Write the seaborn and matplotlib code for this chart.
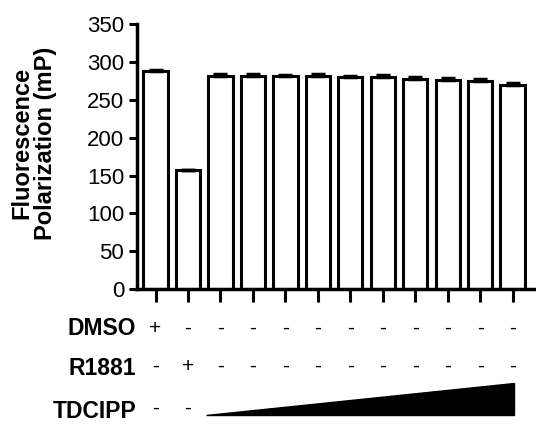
import matplotlib
matplotlib.use("Agg")
import matplotlib.pyplot as plt
import matplotlib.transforms as mtransforms
import seaborn as sns
import pandas as pd
import numpy as np

groups = [f"g{i}" for i in range(1, 13)]
values = [288, 157, 282, 282, 281, 282, 280, 280, 278, 276, 275, 270]
errors = [1.5, 0.8, 2.0, 2.0, 2.0, 2.0, 2.0, 3.0, 2.0, 3.0, 3.0, 2.0]
dmso = ["+", "-", "-", "-", "-", "-", "-", "-", "-", "-", "-", "-"]
r1881 = ["-", "+", "-", "-", "-", "-", "-", "-", "-", "-", "-", "-"]
tdcipp = ["-", "-"]
row_labels = ["DMSO", "R1881", "TDCIPP"]
yticks = [0, 50, 100, 150, 200, 250, 300, 350]

sns.set_style("ticks", {"axes.edgecolor": "black", "xtick.color": "black",
                        "ytick.color": "black", "text.color": "black",
                        "axes.labelcolor": "black"})
plt.rcParams['font.family'] = ['Liberation Sans', 'DejaVu Sans']

fig = plt.figure(figsize=(5.36, 4.24), dpi=100)
ax = fig.add_axes([0.255, 0.318, 0.745, 0.625])

df = pd.DataFrame({"group": groups, "value": values})
sns.barplot(data=df, x="group", y="value", ax=ax, color="white",
            edgecolor="black", linewidth=2.2, width=0.75, errorbar=None)
ax.errorbar(np.arange(len(values)), values, yerr=[np.zeros(len(values)), errors],
            fmt="none", ecolor="black", elinewidth=2.2, capsize=5, capthick=2.5)

ax.set_xlim(-0.58, 11.72)
ax.set_ylim(0, 350)
ax.set_yticks(yticks)
ax.tick_params(axis="y", labelsize=16, width=2.2, length=6, pad=3, colors="black")
ax.tick_params(axis="x", width=2.2, length=9, labelbottom=False, colors="black")
for s in ["left", "bottom"]:
    ax.spines[s].set_linewidth(2.5)
    ax.spines[s].set_color("black")
sns.despine(ax=ax)
ax.set_xlabel("")
ax.set_ylabel("Fluorescence\nPolarization (mP)", fontsize=17, fontweight="bold",
              linespacing=1.0, color="black")
ax.yaxis.set_label_coords(-0.20, 0.55)

trans = mtransforms.blended_transform_factory(ax.transData, ax.transAxes)
row_y = [-0.148, -0.30, -0.46]
sign_y = [-0.148, -0.29, -0.45]
for lab, yy in zip(row_labels, row_y):
    ax.text(-0.6, yy, lab, transform=trans, ha="right", va="center",
            fontsize=16.5, fontweight="bold", clip_on=False, color="black")
for i, s in enumerate(dmso):
    ax.text(i, sign_y[0], s, transform=trans, ha="center", va="center", fontsize=15, clip_on=False)
for i, s in enumerate(r1881):
    ax.text(i, sign_y[1], s, transform=trans, ha="center", va="center", fontsize=15, clip_on=False)
for i, s in enumerate(tdcipp):
    ax.text(i, sign_y[2], s, transform=trans, ha="center", va="center", fontsize=15, clip_on=False)

wedge = plt.Polygon([[1.55, -0.473], [11.05, -0.473], [11.05, -0.355]],
                    closed=True, transform=trans, facecolor="black",
                    edgecolor="black", clip_on=False)
ax.add_patch(wedge)

fig.savefig("out.png", dpi=100)
